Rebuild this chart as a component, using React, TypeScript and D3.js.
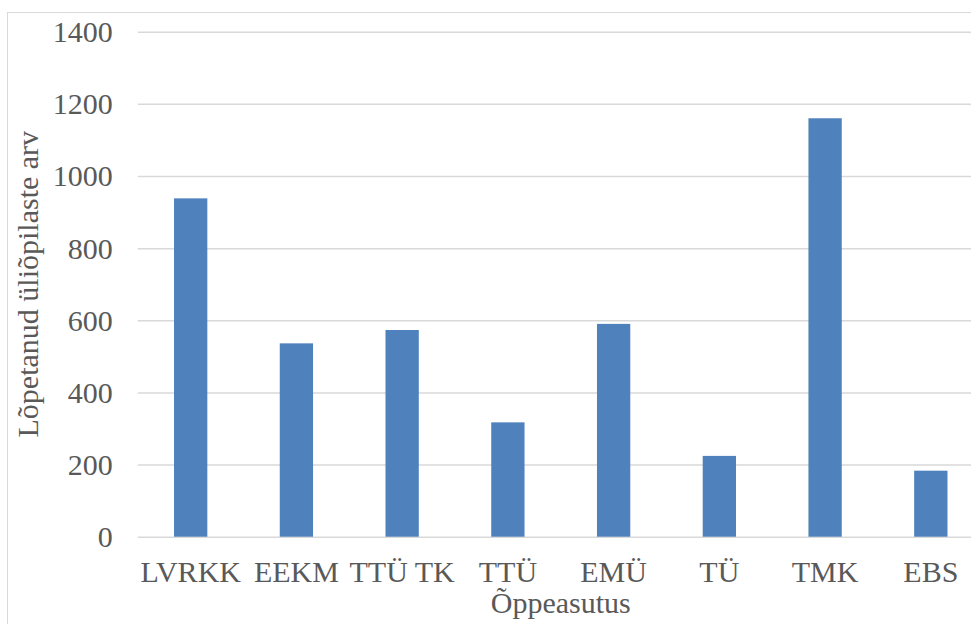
import React, { useRef, useEffect } from 'react';
import { select, scaleBand, scaleLinear, axisLeft, axisBottom } from 'd3';

const categories = ['LVRKK', 'EEKM', 'TTÜ TK', 'TTÜ', 'EMÜ', 'TÜ', 'TMK', 'EBS'];
const graduates = [938, 536, 573, 317, 590, 224, 1160, 183];
const yTicks = [0, 200, 400, 600, 800, 1000, 1200, 1400];
const yTitle = 'Lõpetanud üliõpilaste arv';
const xTitle = 'Õppeasutus';

const dims = {
  width: 971,
  height: 624,
  left: 137.8,
  right: 983.7,
  top: 31.7,
  bottom: 536.7,
};

const FONT = '"Liberation Serif", "Times New Roman", serif';
const TEXT = '#595959';

const App = () => {
  const svgRef = useRef(null);

  useEffect(() => {
    const svg = select(svgRef.current);
    svg.selectAll('*').remove();

    const x = scaleBand<string>()
      .domain(categories)
      .range([dims.left, dims.right])
      .paddingInner(0.685)
      .paddingOuter(0.3425);
    const y = scaleLinear().domain([0, 1400]).range([dims.bottom, dims.top]);

    // outer chart border
    svg
      .append('rect')
      .attr('x', 7.5)
      .attr('y', 12.5)
      .attr('width', 1000)
      .attr('height', 700)
      .attr('fill', 'white')
      .attr('stroke', '#d9d9d9')
      .attr('stroke-width', 1);

    // gridlines + y labels
    const yAxisG = svg.append('g').attr('transform', `translate(${dims.left},0)`);
    yAxisG
      .call(
        axisLeft(y)
          .tickValues(yTicks)
          .tickSize(-(dims.right - dims.left))
          .tickPadding(25)
          .tickFormat((d) => String(d))
      )
      .call((g) => g.select('.domain').remove());
    yAxisG
      .selectAll('.tick line')
      .attr('stroke', '#d9d9d9')
      .attr('stroke-width', 1.5);
    yAxisG
      .selectAll('.tick text')
      .attr('fill', TEXT)
      .attr('font-family', FONT)
      .attr('font-size', 30)
      .attr('dy', '0.33em');

    // bars
    svg
      .append('g')
      .selectAll('rect')
      .data(categories)
      .join('rect')
      .attr('x', (d) => x(d) as number)
      .attr('width', x.bandwidth())
      .attr('y', (_, i) => y(graduates[i]))
      .attr('height', (_, i) => dims.bottom - y(graduates[i]))
      .attr('fill', '#4f81bd');

    // x axis labels
    const xAxisG = svg.append('g').attr('transform', `translate(0,${dims.bottom})`);
    xAxisG
      .call(axisBottom(x).tickSize(0).tickPadding(23.7))
      .call((g) => g.select('.domain').remove());
    xAxisG
      .selectAll('.tick text')
      .attr('fill', TEXT)
      .attr('font-family', FONT)
      .attr('font-size', 30)
      .attr('dy', '0.71em');

    // axis titles
    svg
      .append('text')
      .attr('transform', `translate(38,${(dims.top + dims.bottom) / 2}) rotate(-90)`)
      .attr('text-anchor', 'middle')
      .attr('fill', TEXT)
      .attr('font-family', FONT)
      .attr('font-size', 30)
      .text(yTitle);

    svg
      .append('text')
      .attr('x', (dims.left + dims.right) / 2)
      .attr('y', 613)
      .attr('text-anchor', 'middle')
      .attr('fill', TEXT)
      .attr('font-family', FONT)
      .attr('font-size', 30)
      .text(xTitle);
  }, []);

  return (
    <svg
      ref={svgRef}
      width={dims.width}
      height={dims.height}
      style={{ position: 'absolute', left: 0, top: 0, background: 'white' }}
    ></svg>
  );
};

export default App;
